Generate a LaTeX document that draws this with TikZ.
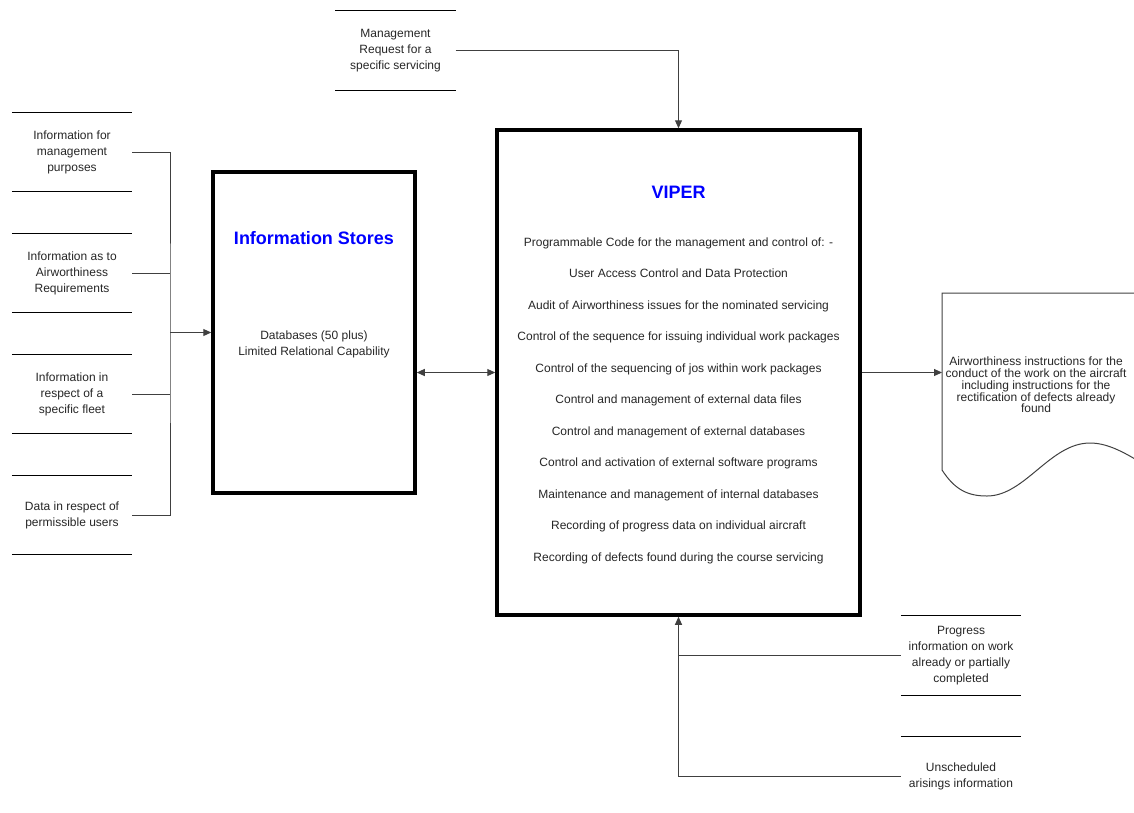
\documentclass[tikz,border=0pt]{standalone}
\usepackage{fontspec}
\setmainfont{Liberation Sans}
\usetikzlibrary{arrows.meta}

\begin{document}
\begin{tikzpicture}[
  x=1pt, y=-1pt,
  every node/.style={font=\fontsize{12}{16}\selectfont, text=black!85, align=center, inner sep=0pt},
  flow/.style={minimum width=120pt, minimum height=79pt,
    append after command={(\tikzlastnode.north west) edge[line width=1.3pt] (\tikzlastnode.north east)
      (\tikzlastnode.south west) edge[line width=1.3pt] (\tikzlastnode.south east)}},
  proc/.style={draw, line width=3.5pt},
  title/.style={font=\fontsize{18}{20}\selectfont\bfseries, text=blue},
  link/.style={line width=1pt, draw=black!75},
  >={Triangle[length=8pt, width=7pt]}
]
  \useasboundingbox (0,0) rectangle (1134,812);
  \clip (0,0) rectangle (1134,812);

  \node[flow] (mgmtinfo) at (72,152)   {Information for\\management\\purposes};
  \node[flow] (airreq)   at (72,273)   {Information as to\\Airworthiness\\Requirements};
  \node[flow] (fleet)    at (72,394)   {Information in\\respect of a\\specific fleet};
  \node[flow] (users)    at (72,515)   {Data in respect of\\permissible users};
  \node[flow] (request)  at (395.5,50.5) {Management\\Request for a\\specific servicing};
  \node[flow] (progress) at (961,655.5) {Progress\\information on work\\already or partially\\completed};
  \node[flow] (arisings) at (961,776.5) {Unscheduled\\arisings information};

  \node[proc, minimum width=202pt, minimum height=321pt] (stores) at (314,332.5) {};
  \node[title] (storestitle) at (314,238) {Information Stores};
  \node (storesdb) at (314,344) {Databases (50 plus)\\Limited Relational Capability};

  \node[proc, minimum width=363pt, minimum height=485pt] (viper) at (678.5,372.5) {};
  \node[title] (vipertitle) at (678.5,192) {VIPER};
  \node[font=\fontsize{12}{31.5}\selectfont] (vipercode) at (678.5,400.5) {Programmable Code for the management and control of: -\\
    User Access Control and Data Protection\\
    Audit of Airworthiness issues for the nominated servicing\\
    Control of the sequence for issuing individual work packages\\
    Control of the sequencing of jos within work packages\\
    Control and management of external data files\\
    Control and management of external databases\\
    Control and activation of external software programs\\
    Maintenance and management of internal databases\\
    Recording of progress data on individual aircraft\\
    Recording of defects found during the course servicing};

  \draw[link] (1160,293) -- (942,293) -- (942,470)
    .. controls (955,490) and (968,496) .. (987,496)
    .. controls (1025,496) and (1050,443) .. (1090,443)
    .. controls (1110,443) and (1130,455) .. (1160,475);
  \node[font=\fontsize{12}{11.7}\selectfont] (instr) at (1036,385) {Airworthiness instructions for the\\
    conduct of the work on the aircraft\\including instructions for the\\
    rectification of defects already\\found};
  \coordinate (docin) at (942,372.5);
  \coordinate (join) at (170,332.5);

  \draw[link] (mgmtinfo.east) -| (join) |- (users.east);
  \draw[link] (airreq.east) -- (airreq.east -| join);
  \draw[link] (fleet.east) -- (fleet.east -| join);
  \draw[link, ->] (join) -- (stores.west);
  \draw[link, <->] (viper.west -| stores.east) -- (viper.west);
  \draw[link, ->] (request.east) -| (viper.north);
  \draw[link, ->] (viper.east) -- (docin);
  \draw[link, ->] (arisings.west) -| (viper.south);
  \draw[link] (progress.west) -- (progress.west -| viper.south);
\end{tikzpicture}
\end{document}
